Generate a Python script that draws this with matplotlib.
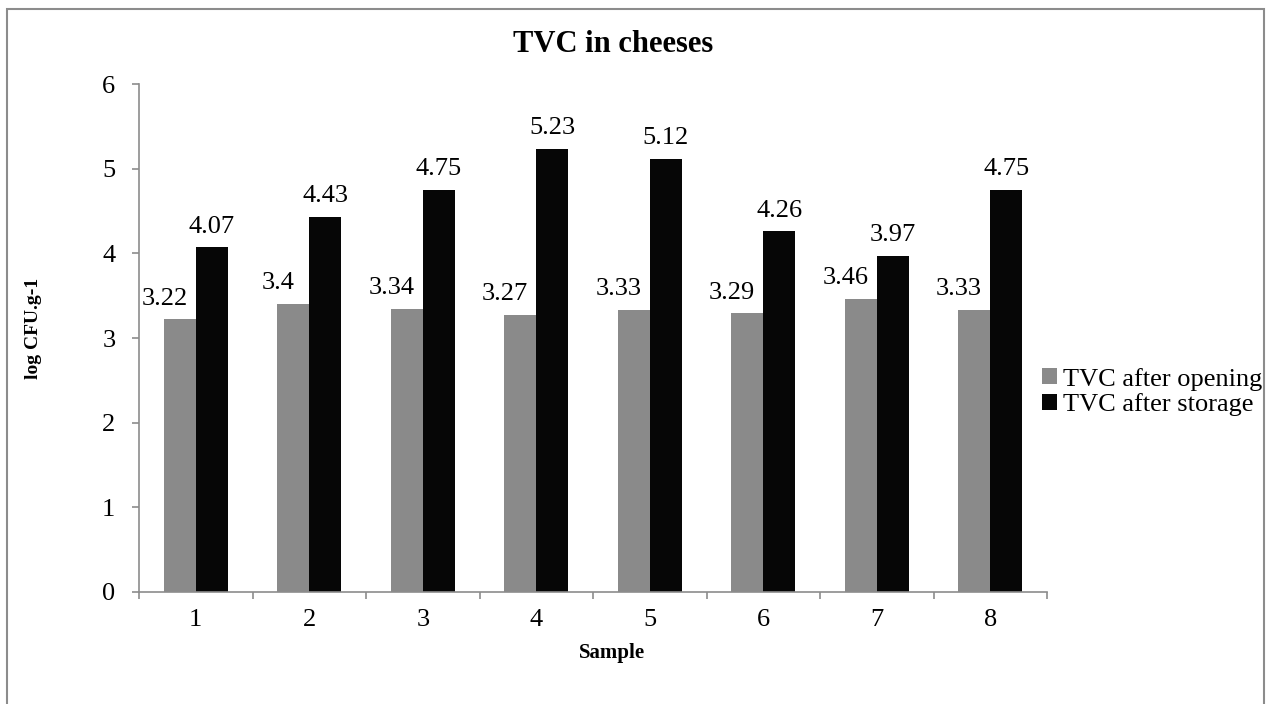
import numpy as np
import matplotlib
matplotlib.use('Agg')
import matplotlib.pyplot as plt
from matplotlib.patches import Rectangle

plt.rcParams['font.family'] = ['Liberation Serif', 'DejaVu Serif']

# Data
samples = ['1', '2', '3', '4', '5', '6', '7', '8']
tvc_opening = [3.22, 3.40, 3.34, 3.27, 3.33, 3.29, 3.46, 3.33]
tvc_storage = [4.07, 4.43, 4.75, 5.23, 5.12, 4.26, 3.97, 4.75]
opening_labels = ['3.22', '3.4', '3.34', '3.27', '3.33', '3.29', '3.46', '3.33']
storage_labels = ['4.07', '4.43', '4.75', '5.23', '5.12', '4.26', '3.97', '4.75']
series_names = ['TVC after opening', 'TVC after storage']

W, H = 1272, 704
fig = plt.figure(figsize=(W / 100, H / 100), dpi=100)

# plot area in pixels
left, right, top, bottom = 139, 1047, 84, 592
ax = fig.add_axes([left / W, 1 - bottom / H, (right - left) / W, (bottom - top) / H])

x = np.arange(len(samples))
bw = 0.283
gray = '#8a8a8a'
black = '#060606'
axis_col = '#8c8c8c'

ax.bar(x - bw / 2, tvc_opening, bw, color=gray, label=series_names[0])
ax.bar(x + bw / 2, tvc_storage, bw, color=black, label=series_names[1])

# value labels (grey ones sit a bit to the left, as in the original)
for i in range(len(samples)):
    ax.annotate(opening_labels[i], (x[i] - bw / 2, tvc_opening[i]),
                xytext=(-11, 7), textcoords='offset points',
                ha='center', va='bottom', fontsize=19)
    ax.annotate(storage_labels[i], (x[i] + bw / 2, tvc_storage[i]),
                xytext=(0, 7), textcoords='offset points',
                ha='center', va='bottom', fontsize=19)

ax.set_xlim(-0.5, len(samples) - 0.5)
ax.set_ylim(0, 6)
ax.set_yticks(range(0, 7))

# ticks between categories, labels at the centres
ax.set_xticks(np.arange(-0.5, len(samples), 1))
ax.set_xticklabels([])
ax.set_xticks(x, minor=True)
ax.set_xticklabels(samples, minor=True)
ax.tick_params(axis='x', which='major', length=5, width=1.2, color=axis_col)
ax.tick_params(axis='x', which='minor', length=0, pad=12, labelsize=19)
ax.tick_params(axis='y', length=5, width=1.2, color=axis_col, pad=12, labelsize=19)

for s in ['top', 'right']:
    ax.spines[s].set_visible(False)
for s in ['left', 'bottom']:
    ax.spines[s].set_color(axis_col)
    ax.spines[s].set_linewidth(1.2)

# titles
fig.text(613 / W, 1 - 52 / H, 'TVC in cheeses', ha='center', va='baseline',
         fontsize=22, fontweight='bold')
fig.text(612 / W, 1 - 658 / H, 'Sample', ha='center', va='baseline',
         fontsize=15, fontweight='bold')
fig.text(34 / W, 1 - 328 / H, 'log CFU.g-1', ha='center', va='center',
         rotation=90, fontsize=14, fontweight='bold')

ax.legend(loc='center left', bbox_to_anchor=(1042 / W, 1 - 392 / H),
          bbox_transform=fig.transFigure, frameon=False, fontsize=19,
          handlelength=0.55, handleheight=0.55, handletextpad=0.25,
          labelspacing=0.1, borderpad=0, borderaxespad=0)

# outer chart border
fig.patches.append(Rectangle((7 / W, -0.05), (1264 - 7) / W, 1.05 - 9 / H,
                             transform=fig.transFigure, fill=False,
                             edgecolor=axis_col, linewidth=1.5))

fig.savefig('out.png', dpi=100)
